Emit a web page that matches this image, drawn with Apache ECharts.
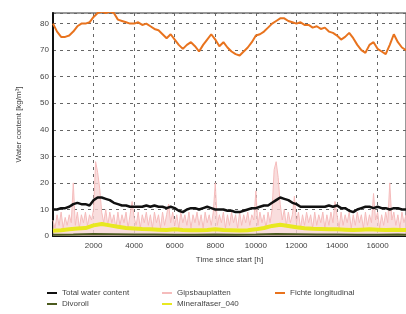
<!DOCTYPE html>
<html>
<head>
<meta charset="utf-8">
<script src="https://cdn.jsdelivr.net/npm/echarts@6/dist/echarts.min.js"></script>
<style>
  html, body { margin: 0; padding: 0; background: #fff; }
  #chart { width: 406px; height: 314px; }
</style>
</head>
<body>
<div id="chart"></div>
<script>
'use strict';
// hours for the orange / black curves (every 200 h)
var hours200 = [];
for (var i = 0; i <= 87; i++) { hours200.push(i * 200); }
// hours for the pink curve (every 100 h)
var hours100 = [];
for (var j = 0; j <= 174; j++) { hours100.push(j * 100); }
var hoursMineral = [0, 400, 800, 1200, 1600, 2000, 2400, 2800, 3200, 3600, 4000, 4400, 4800, 5200, 5600,
    6000, 6400, 6800, 7200, 7600, 8000, 8400, 8800, 9200, 9600, 10000, 10400, 10800, 11200, 11600,
    12000, 12400, 12800, 13200, 13600, 14000, 14400, 14800, 15200, 15600, 16000, 16400, 16800, 17200, 17400];
var hoursDivoroll = [0, 1000, 2000, 3000, 4000, 5000, 6000, 7000, 8000, 9000, 10000, 11000, 12000,
    13000, 14000, 15000, 16000, 17000, 17400];

var fichteValues = [80, 77, 75, 75, 75.5, 77, 79, 80, 80, 80.5,
    82.5, 84, 84.5, 84, 84.5, 84, 81.5, 81, 80.5, 80,
    80, 80.5, 79.5, 80, 79, 78, 77.5, 76, 74.5, 76,
    74, 72, 70.5, 72, 73, 71.5, 69.5, 72, 74, 76,
    74, 71.5, 73, 71, 69.5, 68.5, 68, 69.5, 71, 73,
    75.5, 76, 77, 78.5, 80, 81, 82, 82, 81, 80.5,
    80, 80.5, 79.5, 79.5, 78.5, 79, 78, 78.5, 77, 76.5,
    75.5, 74, 75, 76.5, 74.5, 72, 70, 69, 72, 73,
    70.5, 69.5, 68.5, 72, 76, 73, 71, 70];

var totalValues = [10, 10, 10.5, 10.5, 11, 12, 12.5, 12, 12, 11.5,
    13.5, 14.5, 14.5, 14, 13.5, 12.5, 12, 11.5, 11.5, 11,
    11, 11, 11, 11.5, 11, 11.5, 11, 11, 10.5, 11,
    10.5, 9.5, 9, 10, 10.5, 10.5, 10, 10.5, 11, 10.5,
    10, 10, 10, 9.5, 9.5, 9, 9, 9.5, 10, 10.5,
    10.5, 11, 11.5, 11.5, 12.5, 13.5, 14.5, 14, 13.5, 12.5,
    12, 11, 11, 11, 11, 11, 11, 11, 11.5, 11,
    11.5, 10.5, 10.5, 9.5, 9, 10, 10.5, 11, 11, 10.5,
    11, 10.5, 10.5, 10, 10.5, 10.5, 10, 10];

var gipsValues = [6, 3, 8, 4, 9, 3, 7, 4, 8, 5,
    20, 4, 9, 3, 8, 5, 9, 4, 8, 6,
    10, 28, 24, 18, 9, 5, 10, 4, 9, 5,
    8, 3, 9, 4, 8, 5, 9, 3, 8, 13,
    7, 4, 9, 3, 8, 5, 9, 4, 8, 3,
    9, 5, 8, 3, 9, 4, 8, 12, 5, 9,
    4, 8, 3, 9, 5, 8, 4, 9, 3, 8,
    5, 9, 4, 8, 3, 9, 5, 8, 4, 9,
    20, 4, 8, 5, 9, 3, 8, 4, 9, 5,
    8, 3, 9, 4, 8, 5, 9, 4, 8, 6,
    17, 4, 9, 5, 8, 3, 9, 5, 10, 25,
    28, 22, 12, 6, 10, 4, 9, 5, 8, 15,
    5, 9, 3, 8, 4, 9, 5, 8, 3, 9,
    4, 8, 5, 9, 3, 8, 4, 9, 5, 13,
    8, 3, 9, 4, 8, 5, 9, 3, 8, 4,
    9, 5, 8, 3, 9, 4, 8, 5, 16, 6,
    9, 3, 8, 4, 9, 5, 20, 6, 9, 4,
    8, 3, 9, 5, 8];

var mineralValues = [2, 2.2, 2.5, 2.8, 3, 4, 4.5, 4, 3.5, 3,
    2.8, 2.6, 2.5, 2.4, 2.3, 2.5, 2.3, 2.2, 2.2, 2.3,
    2.5, 2.3, 2.2, 2.1, 2.2, 2.5, 3, 3.8, 4.2, 3.8,
    3.3, 2.9, 2.7, 2.6, 2.5, 2.5, 2.4, 2.3, 2.4, 2.5,
    2.4, 2.3, 2.4, 2.3, 2.3];

var divorollValues = [0.5, 0.6, 0.8, 0.7, 0.6, 0.6, 0.5, 0.5, 0.6, 0.5, 0.6, 0.8, 0.7,
    0.6, 0.6, 0.5, 0.5, 0.6, 0.5];

var seriesNames = ['Total water content', 'Divoroll', 'Gipsbauplatten', 'Mineralfaser_040', 'Fichte longitudinal'];

function pairs(xs, ys) {
    return xs.map(function (x, k) { return [x, ys[k]]; });
}

var chart = echarts.init(document.getElementById('chart'));
var legendText = { fontSize: 8, color: '#444', fontFamily: 'Liberation Sans' };
var legendBase = {
    orient: 'vertical',
    top: 284,
    itemGap: 3,
    itemWidth: 10,
    itemHeight: 2,
    icon: 'rect',
    textStyle: legendText
};
var option = {
    animation: false,
    grid: {
        left: 53, right: 0, top: 13, bottom: 78,
        show: true, borderColor: '#999', borderWidth: 2
    },
    legend: [
        Object.assign({ left: 42, data: [seriesNames[0], seriesNames[1]] }, legendBase),
        Object.assign({ left: 157, data: [seriesNames[2], seriesNames[3]] }, legendBase),
        Object.assign({ left: 270, data: [seriesNames[4]] }, legendBase)
    ],
    xAxis: {
        type: 'value',
        min: 0,
        max: 17400,
        interval: 2000,
        name: 'Time since start [h]',
        nameLocation: 'middle',
        nameGap: 20,
        nameTextStyle: { fontSize: 8, color: '#444', fontFamily: 'Liberation Sans' },
        axisLine: { lineStyle: { color: '#111', width: 2 } },
        axisTick: { show: false },
        axisLabel: {
            fontSize: 8, color: '#444', margin: 6, showMinLabel: false, showMaxLabel: false,
            formatter: function (v) { return String(v); }
        },
        splitLine: { lineStyle: { type: [3, 4], color: '#666', width: 1 } }
    },
    yAxis: {
        type: 'value',
        min: 0,
        max: 84,
        interval: 10,
        name: 'Water content [kg/m³]',
        nameLocation: 'middle',
        nameGap: 30,
        nameTextStyle: { fontSize: 8, color: '#444', fontFamily: 'Liberation Sans' },
        axisLine: { show: true, lineStyle: { color: '#111', width: 2 } },
        axisTick: { show: false },
        axisLabel: { fontSize: 8, color: '#444', margin: 4, showMaxLabel: false },
        splitLine: { lineStyle: { type: [3, 4], color: '#666', width: 1 } }
    },
    series: [
        {
            name: seriesNames[2], type: 'line', showSymbol: false, z: 1,
            color: '#f5bcbc', lineStyle: { width: 1 },
            areaStyle: { color: '#f8d4d4', opacity: 0.8 },
            data: pairs(hours100, gipsValues)
        },
        {
            name: seriesNames[1], type: 'line', showSymbol: false, z: 2,
            color: '#4b5a1e', lineStyle: { width: 2 },
            data: pairs(hoursDivoroll, divorollValues)
        },
        {
            name: seriesNames[3], type: 'line', showSymbol: false, z: 3,
            color: '#e8e820', lineStyle: { width: 4 },
            data: pairs(hoursMineral, mineralValues)
        },
        {
            name: seriesNames[0], type: 'line', showSymbol: false, z: 4,
            color: '#111', lineStyle: { width: 2.5 },
            data: pairs(hours200, totalValues)
        },
        {
            name: seriesNames[4], type: 'line', showSymbol: false, z: 5,
            color: '#e8731e', lineStyle: { width: 2 },
            data: pairs(hours200, fichteValues)
        }
    ]
};
chart.setOption(option);
</script>
</body>
</html>
